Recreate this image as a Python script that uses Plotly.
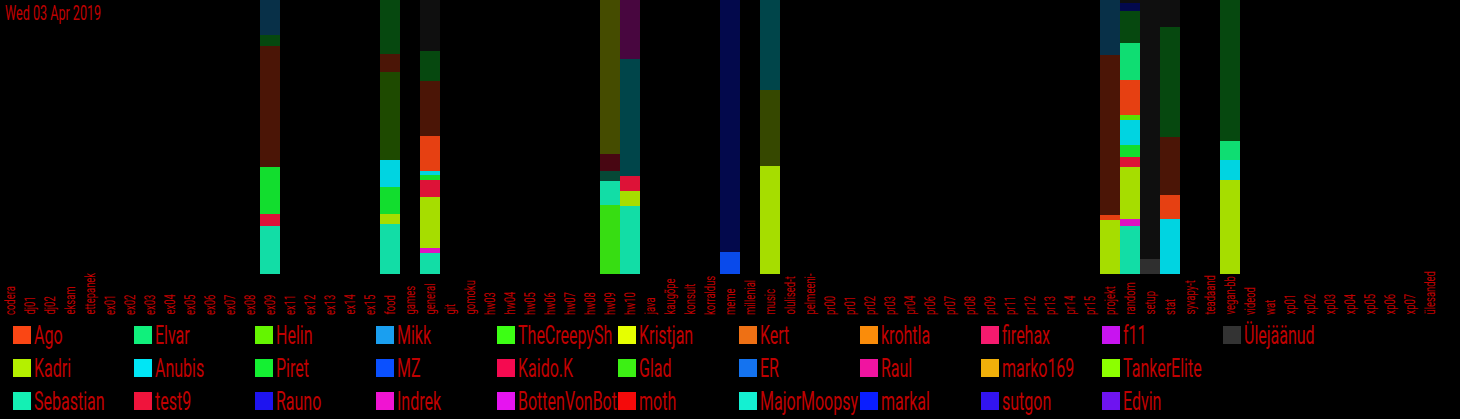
import plotly.graph_objects as go

title_text = "Wed 03 Apr 2019"

categories = [
    "codera", "dj01", "dj02", "eksam", "ettepanek",
    "ex01", "ex02", "ex03", "ex04", "ex05", "ex06", "ex07", "ex08", "ex09",
    "ex11", "ex12", "ex13", "ex14", "ex15",
    "food", "games", "general", "git", "gomoku",
    "hw03", "hw04", "hw05", "hw06", "hw07", "hw08", "hw09", "hw10",
    "java", "kaugõpe", "konsult", "korraldus", "meme", "millenial", "music",
    "olulised-t", "pelmeeni-",
    "pr00", "pr01", "pr02", "pr03", "pr04", "pr06", "pr07", "pr08", "pr09",
    "pr11", "pr12", "pr13", "pr14", "pr15",
    "projekt", "random", "setup", "stat", "syvapy-t", "teadaand", "vegan-bb",
    "videod", "wat",
    "xp01", "xp02", "xp03", "xp04", "xp05", "xp06", "xp07", "ülesanded",
]

# legend order (column-major, 3 rows)
series_names = [
    "Ago", "Kadri", "Sebastian",
    "Elvar", "Anubis", "test9",
    "Helin", "Piret", "Rauno",
    "Mikk", "MZ", "Indrek",
    "TheCreepySh", "Kaido.K", "BottenVonBot",
    "Kristjan", "Glad", "moth",
    "Kert", "ER", "MajorMoopsy",
    "krohtla", "Raul", "markal",
    "firehax", "marko169", "sutgon",
    "f11", "TankerElite", "Edvin",
    "Ülejäänud",
]
series_colors = [
    "#fa4614", "#b4f000", "#14f0b4",
    "#10f07c", "#00e6f5", "#f0143c",
    "#64f500", "#14f032", "#1e14f0",
    "#1a9ff0", "#0a50ff", "#f014d2",
    "#3cff14", "#f50a50", "#e614f0",
    "#e6ff00", "#3cf014", "#f50a0a",
    "#ee7014", "#1473f0", "#14f0d2",
    "#fa8c0a", "#f014a0", "#0a1eff",
    "#f51a6e", "#f0b00a", "#3214f0",
    "#c814f0", "#8cff00", "#6e14f0",
    "#333333",
]

# stacked segments per channel, bottom -> top: (user, shade, amount)
ex09 = [("Sebastian", "b", 48), ("test9", "b", 12), ("Piret", "b", 47),
        ("Ago", "d", 121), ("Piret", "d", 11), ("Mikk", "d", 35)]
food = [("Sebastian", "b", 50), ("Kadri", "b", 10), ("Piret", "b", 27),
        ("Anubis", "b", 27), ("Helin", "d", 88), ("Ago", "d", 18), ("Piret", "d", 54)]
general = [("Sebastian", "b", 21), ("Indrek", "b", 5), ("Kadri", "b", 51),
           ("test9", "b", 17), ("Piret", "b", 5), ("Anubis", "b", 4),
           ("Ago", "b", 35), ("Ago", "d", 55), ("Piret", "d", 30), ("Ülejäänud", "d", 51)]
hw09 = [("Glad", "b", 69), ("Sebastian", "b", 24), ("Sebastian", "d", 10),
        ("test9", "d", 17), ("Kristjan", "d", 154)]
hw10 = [("Sebastian", "b", 68), ("Kadri", "b", 15), ("test9", "b", 15),
        ("Anubis", "d", 117), ("Indrek", "d", 59)]
meme = [("MZ", "b", 22), ("markal", "d", 252)]
music = [("Kadri", "b", 108), ("Kadri", "d", 76), ("Anubis", "d", 90)]
projekt = [("Kadri", "b", 54), ("Ago", "b", 5), ("Ago", "d", 160), ("Mikk", "d", 55)]
random_ch = [("Sebastian", "b", 48), ("Indrek", "b", 7), ("Kadri", "b", 52),
             ("test9", "b", 10), ("Piret", "b", 12), ("Anubis", "b", 25),
             ("Helin", "b", 5), ("Ago", "b", 35), ("Elvar", "b", 37),
             ("Piret", "d", 32), ("markal", "d", 8), ("Ülejäänud", "d", 3)]
setup = [("Ülejäänud", "b", 15), ("Ülejäänud", "d", 259)]
stat = [("Anubis", "b", 55), ("Ago", "b", 24), ("Ago", "d", 58),
        ("Piret", "d", 110), ("Ülejäänud", "d", 27)]
vegan = [("Kadri", "b", 94), ("Anubis", "b", 20), ("Elvar", "b", 19), ("Piret", "d", 141)]

channel_segments = {
    "ex09": ex09, "food": food, "general": general, "hw09": hw09, "hw10": hw10,
    "meme": meme, "music": music, "projekt": projekt, "random": random_ch,
    "setup": setup, "stat": stat, "vegan-bb": vegan,
}

TEXT_RED = "#c00000"
FONT = "Roboto, sans-serif"
LABEL_SIZE, TITLE_SIZE, LEGEND_SIZE = 15, 21, 25
# horizontal condensing per font size (emulates the narrow gothic face)
CONDENSE = {LABEL_SIZE: 0.63, TITLE_SIZE: 0.6, LEGEND_SIZE: 0.64}

color_of = dict(zip(series_names, series_colors))


def shade(hex_color, f):
    h = hex_color.lstrip("#")
    r, g, b = (int(h[i:i + 2], 16) for i in (0, 2, 4))
    return "#%02x%02x%02x" % (round(r * f), round(g * f), round(b * f))


fig = go.Figure()
for ch, segs in channel_segments.items():
    for user, sh, val in segs:
        col = shade(color_of[user], 0.92 if sh == "b" else 0.3)
        fig.add_trace(go.Bar(
            x=[ch], y=[val], name=user, showlegend=False,
            marker=dict(color=col, line=dict(width=0)),
            hovertemplate=f"{user}<br>%{{x}}<extra></extra>",
        ))

# plot geometry (px)
W, H = 1460, 419
ML, MR, MT, MB = 0, 20, 0, 145
PW, PH = W - ML - MR, H - MT - MB


def py(p):  # pixel y -> paper y
    return (PH - (p - MT)) / PH


def px(p):
    return (p - ML) / PW


annotations = []
# category labels, rotated, bottom-aligned
for c in categories:
    annotations.append(dict(
        x=c, xref="x", y=py(316), yref="paper", text=c, showarrow=False,
        textangle=-90, xanchor="center", yanchor="bottom", borderpad=0,
        font=dict(family=FONT, size=LABEL_SIZE, color=TEXT_RED),
    ))

annotations.append(dict(
    x=px(4), y=py(0), xref="paper", yref="paper", text=title_text, showarrow=False,
    xanchor="left", yanchor="top", borderpad=0,
    font=dict(family=FONT, size=TITLE_SIZE, color=TEXT_RED),
))

shapes = []
for i, (name, col) in enumerate(zip(series_names, series_colors)):
    c, r = i // 3, i % 3
    x0 = 13 + 121 * c
    y0 = 326 + 33 * r
    shapes.append(dict(
        type="rect", xref="paper", yref="paper",
        x0=px(x0), x1=px(x0 + 18), y0=py(y0 + 18), y1=py(y0),
        fillcolor=col, line=dict(width=0),
    ))
    annotations.append(dict(
        x=px(x0 + 20), y=py(y0 + 9.5), xref="paper", yref="paper", text=name,
        showarrow=False, xanchor="left", yanchor="middle", borderpad=0,
        font=dict(family=FONT, size=LEGEND_SIZE, color=TEXT_RED),
    ))

fig.update_layout(
    width=W, height=H,
    margin=dict(l=ML, r=MR, t=MT, b=MB, pad=0),
    paper_bgcolor="#000000", plot_bgcolor="#000000",
    barmode="stack", barnorm="percent", bargap=0,
    showlegend=False,
    xaxis=dict(type="category", categoryorder="array", categoryarray=categories,
               range=[-0.5, len(categories) - 0.5], showticklabels=False,
               showgrid=False, zeroline=False, showline=False, ticks=""),
    yaxis=dict(range=[0, 100], visible=False, showgrid=False, zeroline=False),
    annotations=annotations, shapes=shapes,
)

scales_js = "{" + ",".join(f'"{k}":{v}' for k, v in CONDENSE.items()) + "}"
post = """
document.body.style.margin='0';
document.body.style.overflow='hidden';
document.body.style.background='#000';
var S = %s;
document.querySelectorAll('.annotation-text').forEach(function(t){
  var fs = String(Math.round(parseFloat(t.style.fontSize)));
  var s = S[fs];
  if (!s) return;
  var b = t.getBBox();
  var x0 = b.x;
  var prev = t.getAttribute('transform') || '';
  t.setAttribute('transform', prev + ' translate(' + x0 + ',0) scale(' + s + ',1) translate(' + (-x0) + ',0)');
});
""" % scales_js

fig.write_html("out.html", config={"displayModeBar": False}, post_script=post)
